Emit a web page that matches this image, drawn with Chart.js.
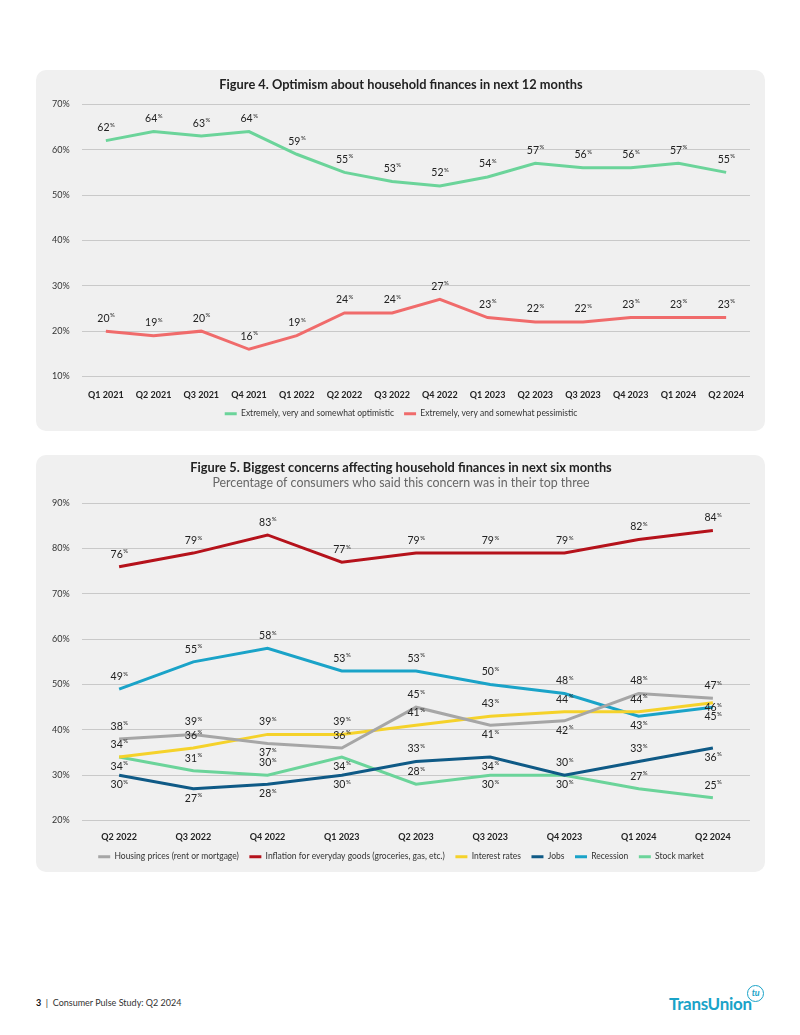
<!DOCTYPE html>
<html>
<head>
<meta charset="utf-8">
<script src="https://cdn.jsdelivr.net/npm/chart.js@4.4.1/dist/chart.umd.min.js"></script>
<style>
  body { margin: 0; background: #fff; font-family: Lato, sans-serif; }
  .page { position: relative; width: 800px; height: 1035px; }
  .panel { position: absolute; left: 36px; width: 729px; background: #f0f0f0; border-radius: 10px; }
  .panel canvas { display: block; }
  .footer { position: absolute; left: 36px; top: 997px; font-size: 9px; color: #333; }
  .footer b { font-weight: bold; color: #111; }
  .logo { position: absolute; left: 669px; top: 993px; font-size: 17px; color: #1aa3c8; font-weight: bold; letter-spacing: -0.3px; }
  .logo .tu { position: absolute; left: 78px; top: -8px; width: 15px; height: 15px; border: 1.5px solid #1aa3c8; border-radius: 50%;
              font-size: 9px; line-height: 14px; text-align: center; font-style: italic; }
</style>
</head>
<body>
<div class="page">
  <div class="panel" style="top:70px;height:361px"><canvas id="chart1" width="729" height="361"></canvas></div>
  <div class="panel" style="top:455px;height:417px"><canvas id="chart2" width="729" height="417"></canvas></div>
  <div class="footer"><b>3</b>&nbsp; | &nbsp;Consumer Pulse Study: Q2 2024</div>
  <div class="logo">TransUnion<span class="tu">tu</span></div>
</div>
<script>
"use strict";
// Figure 4 data
const quarters1 = ["Q1 2021", "Q2 2021", "Q3 2021", "Q4 2021", "Q1 2022", "Q2 2022", "Q3 2022",
    "Q4 2022", "Q1 2023", "Q2 2023", "Q3 2023", "Q4 2023", "Q1 2024", "Q2 2024"];
const optimistic = [62, 64, 63, 64, 59, 55, 53, 52, 54, 57, 56, 56, 57, 55];
const pessimistic = [20, 19, 20, 16, 19, 24, 24, 27, 23, 22, 22, 23, 23, 23];

// Figure 5 data
const quarters2 = ["Q2 2022", "Q3 2022", "Q4 2022", "Q1 2023", "Q2 2023", "Q3 2023", "Q4 2023", "Q1 2024", "Q2 2024"];
const housing = [38, 39, 37, 36, 45, 41, 42, 48, 47];
const inflation = [76, 79, 83, 77, 79, 79, 79, 82, 84];
const interestRates = [34, 36, 39, 39, 41, 43, 44, 44, 46];
const jobs = [30, 27, 28, 30, 33, 34, 30, 33, 36];
const recession = [49, 55, 58, 53, 53, 50, 48, 43, 45];
const stockMarket = [34, 31, 30, 34, 28, 30, 30, 27, 25];

const FONT = "Lato";

// Value labels ("62%" with a small raised %). Above the point unless the index is in labelBelow;
// labelTight = below, but tucked closer to the line
const valueLabels = {
    id: "valueLabels",
    afterDatasetsDraw(chart, args, opts) {
        const ctx = chart.ctx;
        ctx.save();
        ctx.textBaseline = "middle";
        ctx.textAlign = "left";
        ctx.fillStyle = "#222";
        chart.data.datasets.forEach((ds, i) => {
            const meta = chart.getDatasetMeta(i);
            const below = ds.labelBelow || [];
            const tight = ds.labelTight || [];
            meta.data.forEach((pt, j) => {
                let y = pt.y - opts.above;
                if (below.includes(j)) y = pt.y + opts.below;
                if (tight.includes(j)) y = pt.y + 5;
                const num = String(ds.data[j]);
                ctx.font = "10.5px " + FONT;
                const w1 = ctx.measureText(num).width;
                ctx.font = "6px " + FONT;
                const w2 = ctx.measureText("%").width;
                const x0 = pt.x - (w1 + w2) / 2;
                ctx.font = "10.5px " + FONT;
                ctx.fillText(num, x0, y);
                ctx.font = "6px " + FONT;
                ctx.fillText("%", x0 + w1 + 0.5, y - 3);
            });
        });
        ctx.restore();
    },
};

function legendLabels(chart) {
    return Chart.defaults.plugins.legend.labels.generateLabels(chart).map(l => ({ ...l, lineWidth: 0 }));
}

function line(label, data, color, labelBelow, labelTight) {
    return {
        label: label,
        data: data,
        borderColor: color,
        backgroundColor: color,
        borderWidth: 3,
        pointRadius: 0,
        tension: 0,
        fill: false,
        labelBelow: labelBelow || [],
        labelTight: labelTight || [],
    };
}

function scales(min, max, tickPad, axisHeight) {
    return {
        x: {
            offset: true,
            afterFit: s => { s.height = axisHeight; },
            grid: { display: false, drawTicks: false },
            border: { display: false },
            ticks: { padding: tickPad, color: "#222", font: { family: FONT, size: 9, weight: "bold" } },
        },
        y: {
            min: min,
            max: max,
            afterFit: s => { s.width = 30; },
            grid: { color: "#c9c9c9", drawTicks: false },
            border: { display: false },
            ticks: {
                stepSize: 10,
                padding: 0,
                crossAlign: "far",
                color: "#333",
                font: { family: FONT, size: 9 },
                callback: v => v + "%",
            },
        },
    };
}

const legendOpts = pad => ({
    position: "bottom",
    labels: {
        boxWidth: 12,
        boxHeight: 3,
        padding: pad,
        color: "#333",
        font: { family: FONT, size: 8.5 },
        generateLabels: legendLabels,
    },
});

// Figure 4
new Chart(document.getElementById("chart1"), {
    type: "line",
    data: {
        labels: quarters1,
        datasets: [
            line("Extremely, very and somewhat optimistic", optimistic, "#6bd49a"),
            line("Extremely, very and somewhat pessimistic", pessimistic, "#f06b6b"),
        ],
    },
    options: {
        responsive: false,
        animation: false,
        layout: { padding: { left: 16, right: 15, top: 0, bottom: 3 } },
        scales: scales(10, 70, 13, 23),
        plugins: {
            title: {
                display: true,
                text: "Figure 4. Optimism about household finances in next 12 months",
                color: "#222",
                font: { family: FONT, size: 12.8, weight: "bold" },
                padding: { top: 7, bottom: 12 },
            },
            legend: legendOpts(10),
            tooltip: { enabled: false },
            valueLabels: { above: 13, below: 10 },
        },
    },
    plugins: [valueLabels],
});

// Figure 5
new Chart(document.getElementById("chart2"), {
    type: "line",
    data: {
        labels: quarters2,
        datasets: [
            line("Housing prices (rent or mortgage)", housing, "#a6a6a6", [2, 5, 6]),
            line("Inflation for everyday goods (groceries, gas, etc.)", inflation, "#b5121b"),
            line("Interest rates", interestRates, "#f5d22a", [], [8]),
            line("Jobs", jobs, "#0f5a86", [0, 1, 2, 3, 5, 8]),
            line("Recession", recession, "#1aa3c8", [7, 8]),
            line("Stock market", stockMarket, "#6bd49a", [0, 3, 5, 6]),
        ],
    },
    options: {
        responsive: false,
        animation: false,
        layout: { padding: { left: 16, right: 15, top: 0, bottom: 1 } },
        scales: scales(20, 90, 11.6, 21.4),
        plugins: {
            title: {
                display: true,
                text: "Figure 5. Biggest concerns affecting household finances in next six months",
                color: "#222",
                font: { family: FONT, size: 12.8, weight: "bold" },
                padding: { top: 5, bottom: 0 },
            },
            subtitle: {
                display: true,
                text: "Percentage of consumers who said this concern was in their top three",
                color: "#666",
                font: { family: FONT, size: 12.4 },
                padding: { top: 0, bottom: 13 },
            },
            legend: legendOpts(10.6),
            tooltip: { enabled: false },
            valueLabels: { above: 12.5, below: 9.5 },
        },
    },
    plugins: [valueLabels],
});
</script>
</body>
</html>
